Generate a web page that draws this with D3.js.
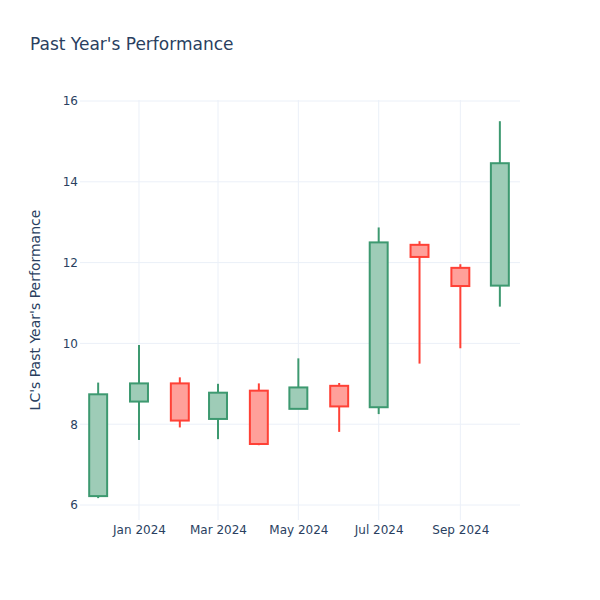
<!DOCTYPE html>
<html>
<head>
<meta charset="utf-8">
<script src="https://cdn.jsdelivr.net/npm/d3@7"></script>
<style>
  html, body { margin: 0; padding: 0; background: #fff; }
  svg { display: block; font-family: "DejaVu Sans", verdana, arial, sans-serif; }
</style>
</head>
<body>
<svg id="chart" width="600" height="600"></svg>
<script>
// ---- Data ----
const dates = ["2023-12-01","2024-01-01","2024-02-01","2024-03-01","2024-04-01","2024-05-01",
               "2024-06-01","2024-07-01","2024-08-01","2024-09-01","2024-10-01"];
const opens  = [6.22, 8.56, 9.01, 8.13, 8.83, 8.38, 8.95, 8.42, 12.44, 11.87, 11.43];
const highs  = [9.03, 9.96, 9.16, 9.00, 9.01, 9.63, 9.02, 12.87, 12.53, 11.96, 15.50];
const lows   = [6.17, 7.61, 7.92, 7.63, 7.48, 8.38, 7.81, 8.25, 9.50, 9.88, 10.91];
const closes = [8.74, 9.01, 8.09, 8.78, 7.51, 8.91, 8.44, 12.50, 12.14, 11.42, 14.46];
const yTicks = [6, 8, 10, 12, 14, 16];
const xTicks = ["2024-01-01","2024-03-01","2024-05-01","2024-07-01","2024-09-01"];
const titleText = "Past Year's Performance";
const yTitle = "LC's Past Year's Performance";

// ---- Layout ----
const W = 600, H = 600;
const m = {l: 80, r: 80, t: 100, b: 80};
const svg = d3.select("#chart");
const parse = d3.utcParse("%Y-%m-%d");
const FONT = '"DejaVu Sans", verdana, arial, sans-serif';

const x = d3.scaleUtc()
  .domain([new Date(Date.UTC(2023,10,17,5)), new Date(Date.UTC(2024,9,16,7))])
  .range([m.l, W - m.r]);
const y = d3.scaleLinear()
  .domain([6 - 15/40.4, 16 + 1/40.4])
  .range([H - m.b, m.t]);

const inc = {line: "#3D9970", fill: "rgba(61,153,112,0.5)"};
const dec = {line: "#FF4136", fill: "rgba(255,65,54,0.5)"};
const grid = "#EBF0F8";
const textCol = "#2a3f5f";

// grid lines
svg.append("g").selectAll("line").data(yTicks).join("line")
  .attr("x1", m.l).attr("x2", W - m.r)
  .attr("y1", d => y(d)).attr("y2", d => y(d))
  .attr("stroke", grid).attr("stroke-width", 1);
svg.append("g").selectAll("line").data(xTicks).join("line")
  .attr("x1", d => x(parse(d))).attr("x2", d => x(parse(d)))
  .attr("y1", m.t).attr("y2", H - m.b)
  .attr("stroke", grid).attr("stroke-width", 1);

// axes (labels only)
const yAxis = d3.axisLeft(y).tickValues(yTicks).tickSize(0).tickPadding(2);
const gy = svg.append("g").attr("transform", `translate(${m.l},0)`).call(yAxis);
gy.select(".domain").remove();
gy.selectAll("text").attr("fill", textCol).style("font-size", "12px").style("font-family", FONT);

const xAxis = d3.axisBottom(x).tickValues(xTicks.map(parse)).tickFormat(d3.utcFormat("%b %Y")).tickSize(0).tickPadding(5);
const gx = svg.append("g").attr("transform", `translate(0,${H - m.b})`).call(xAxis);
gx.select(".domain").remove();
gx.selectAll("text").attr("fill", textCol).style("font-size", "12px").style("font-family", FONT);

// candles
const data = dates.map((d, i) => ({date: parse(d), o: opens[i], h: highs[i], l: lows[i], c: closes[i]}));
const xs = data.map(d => x(d.date));
let minGap = Infinity;
for (let i = 1; i < xs.length; i++) minGap = Math.min(minGap, xs[i] - xs[i-1]);
const bw = minGap * 0.47;

const g = svg.append("g");
const candle = g.selectAll("g.c").data(data).join("g").attr("class", "c");
candle.append("line")
  .attr("x1", d => x(d.date)).attr("x2", d => x(d.date))
  .attr("y1", d => y(d.h)).attr("y2", d => y(d.l))
  .attr("stroke", d => d.c >= d.o ? inc.line : dec.line)
  .attr("stroke-width", 2);
candle.append("rect")
  .attr("x", d => x(d.date) - bw / 2)
  .attr("width", bw)
  .attr("y", d => y(Math.max(d.o, d.c)))
  .attr("height", d => Math.max(0.5, y(Math.min(d.o, d.c)) - y(Math.max(d.o, d.c))))
  .attr("fill", "#fff");
candle.append("rect")
  .attr("x", d => x(d.date) - bw / 2)
  .attr("width", bw)
  .attr("y", d => y(Math.max(d.o, d.c)))
  .attr("height", d => Math.max(0.5, y(Math.min(d.o, d.c)) - y(Math.max(d.o, d.c))))
  .attr("fill", d => d.c >= d.o ? inc.fill : dec.fill)
  .attr("stroke", d => d.c >= d.o ? inc.line : dec.line)
  .attr("stroke-width", 2);

// titles
svg.append("text").attr("x", 30).attr("y", 50)
  .attr("fill", textCol).style("font-size", "17px").style("font-family", FONT).text(titleText);
svg.append("text")
  .attr("transform", `translate(40,${(m.t + H - m.b) / 2}) rotate(-90)`)
  .attr("text-anchor", "middle")
  .attr("fill", textCol).style("font-size", "14px").style("font-family", FONT).text(yTitle);
</script>
</body>
</html>
